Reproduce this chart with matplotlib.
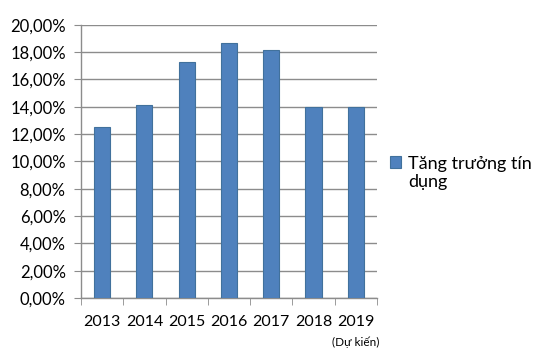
import matplotlib
matplotlib.use('Agg')
import matplotlib.pyplot as plt
from matplotlib.ticker import FuncFormatter, FixedLocator
import numpy as np

plt.rcParams['font.family'] = ['Lato', 'DejaVu Sans']

# Data
years = ['2013', '2014', '2015', '2016', '2017', '2018', '2019']
credit_growth = [12.5, 14.15, 17.25, 18.7, 18.15, 14.0, 14.0]
series_name = 'Tăng trưởng tín\ndụng'
note = '(Dự kiến)'

fig = plt.figure(figsize=(5.4, 3.6), dpi=100)
ax = fig.add_axes([0.15, 0.172, 0.548, 0.759])

x = np.arange(len(years))
bars = ax.bar(x, credit_growth, width=0.38, color='#4F81BD', edgecolor='#41719C',
              linewidth=0.8, label=series_name, zorder=3)

ax.set_xlim(-0.5, len(years) - 0.5)
ax.set_ylim(0, 20)
ax.set_yticks(np.arange(0, 21, 2))
ax.yaxis.set_major_formatter(FuncFormatter(lambda v, p: f'{v:.2f}%'.replace('.', ',')))
ax.yaxis.grid(True, color='#8c8c8c', linewidth=1.0, zorder=0)

ax.set_xticks(x)
ax.set_xticklabels(years)
ax.xaxis.set_minor_locator(FixedLocator(np.arange(-0.5, len(years), 1)))
ax.tick_params(axis='x', which='major', length=0, pad=12, labelsize=11.5)
ax.tick_params(axis='x', which='minor', length=5, color='#8c8c8c', direction='out')
ax.tick_params(axis='y', length=5, color='#8c8c8c', labelsize=12, pad=6)

for side in ['top', 'right']:
    ax.spines[side].set_visible(False)
for side in ['left', 'bottom']:
    ax.spines[side].set_color('#8c8c8c')
    ax.spines[side].set_linewidth(1.0)

ax.text(6, -0.161, note, transform=ax.get_xaxis_transform(), ha='center', va='center',
        fontsize=8.5)

leg = ax.legend(loc='center left', bbox_to_anchor=(0.99, 0.458), frameon=False,
                fontsize=13, handlelength=0.6, handleheight=0.6, handletextpad=0.4)
for t in leg.get_texts():
    t.set_linespacing(1.1)
# put the marker next to the first text line, like the original
for col in leg._legend_handle_box.get_children():
    for item in col.get_children():
        item.align = 'top'

fig.savefig('out.png', dpi=100, facecolor='white')
